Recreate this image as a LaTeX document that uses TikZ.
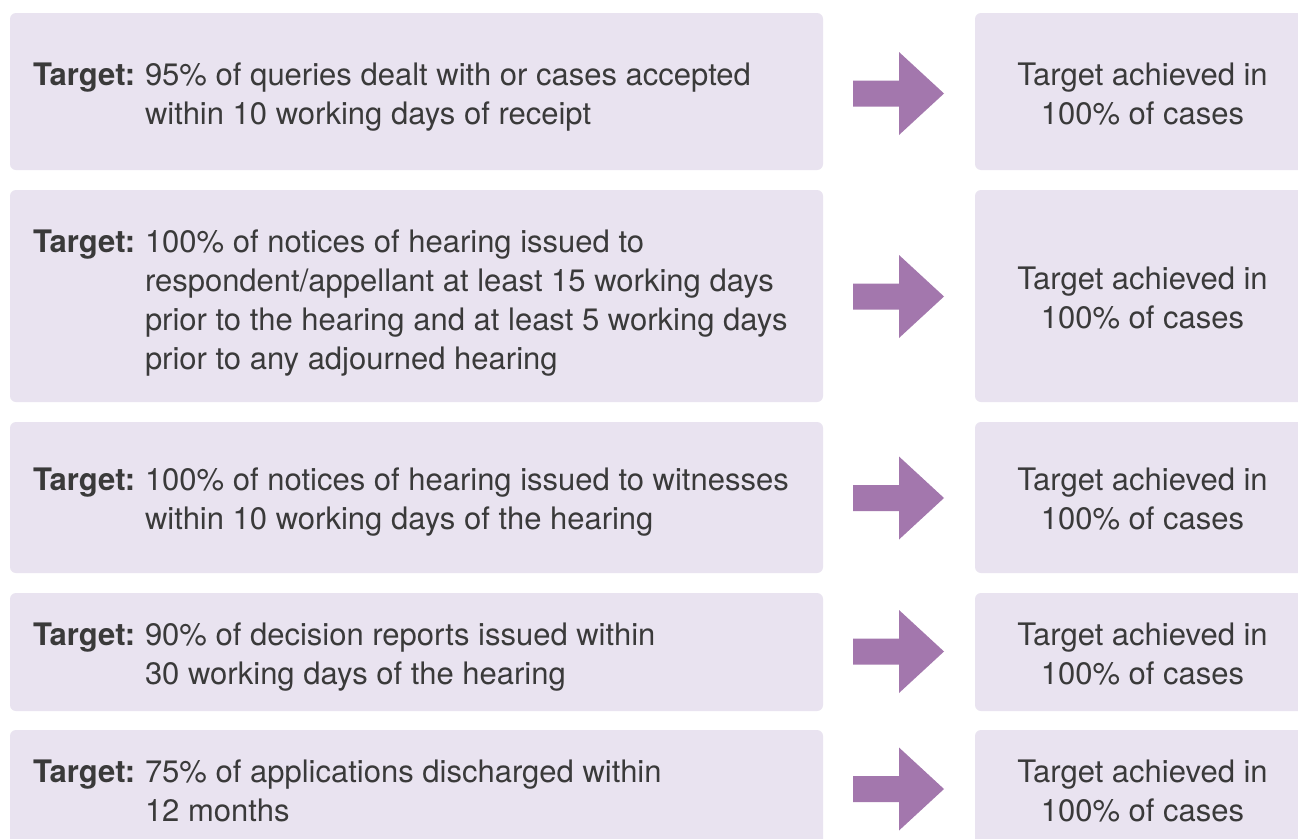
\documentclass[tikz,border=0pt]{standalone}
\usepackage{fontspec}
\setmainfont{TeX Gyre Heros}
\definecolor{boxfill}{HTML}{E9E3F0}
\definecolor{arrowfill}{HTML}{A377AD}
\definecolor{txt}{HTML}{3A3A3A}
\tikzset{
  panel/.style={fill=boxfill, draw=none, rounded corners=6pt},
  lbl/.style={inner sep=0pt, outer sep=0pt, text=txt, font=\fontsize{31}{39}\selectfont},
  tgt/.style={lbl, anchor=base west, font=\fontsize{31}{39}\selectfont\bfseries},
  body/.style={lbl, anchor=base west, align=left},
  res/.style={lbl, anchor=base, align=center},
  blockarrow/.style={fill=arrowfill, draw=none}
}
\newcommand{\blockarr}[1]{%
  \fill[blockarrow] (853,#1-13) -- (899,#1-13) -- (899,#1-41.5) -- (944,#1)
    -- (899,#1+41.5) -- (899,#1+13) -- (853,#1+13) -- cycle;}
\begin{document}
\begin{tikzpicture}[x=1pt,y=-1pt]
\clip (0,0) rectangle (1298,838);
\fill[white] (0,0) rectangle (1298,838);
% left panels
\path[panel] (10,13) rectangle (823,170);
\path[panel] (10,190) rectangle (823,402);
\path[panel] (10,422) rectangle (823,573);
\path[panel] (10,593) rectangle (823,711);
\path[panel] (10,730) rectangle (823,851);
% right panels
\path[panel] (975,13) rectangle (1320,170);
\path[panel] (975,190) rectangle (1320,402);
\path[panel] (975,422) rectangle (1320,573);
\path[panel] (975,593) rectangle (1320,711);
\path[panel] (975,730) rectangle (1320,851);
% arrows
\blockarr{93.5}
\blockarr{296.5}
\blockarr{498}
\blockarr{651.5}
\blockarr{789}
% (multi-line nodes: base anchor = baseline of last line)
% row 1
\node[tgt] (t1) at (33,85) {Target:};
\node[body] (b1) at (145,124) {95\% of queries dealt with or cases accepted\\within 10 working days of receipt};
\node[res] (r1) at (1142.5,124) {Target achieved in\\100\% of cases};
% row 2
\node[tgt] (t2) at (33,252) {Target:};
\node[body] (b2) at (145,369) {100\% of notices of hearing issued to\\respondent/appellant at least 15 working days\\prior to the hearing and at least 5 working days\\prior to any adjourned hearing};
\node[res] (r2) at (1142.5,328) {Target achieved in\\100\% of cases};
% row 3
\node[tgt] (t3) at (33,490) {Target:};
\node[body] (b3) at (145,529) {100\% of notices of hearing issued to witnesses\\within 10 working days of the hearing};
\node[res] (r3) at (1142.5,529) {Target achieved in\\100\% of cases};
% row 4
\node[tgt] (t4) at (33,645) {Target:};
\node[body] (b4) at (145,684) {90\% of decision reports issued within\\30 working days of the hearing};
\node[res] (r4) at (1142.5,684) {Target achieved in\\100\% of cases};
% row 5
\node[tgt] (t5) at (33,782) {Target:};
\node[body] (b5) at (145,821) {75\% of applications discharged within\\12 months};
\node[res] (r5) at (1142.5,821) {Target achieved in\\100\% of cases};
\end{tikzpicture}
\end{document}
